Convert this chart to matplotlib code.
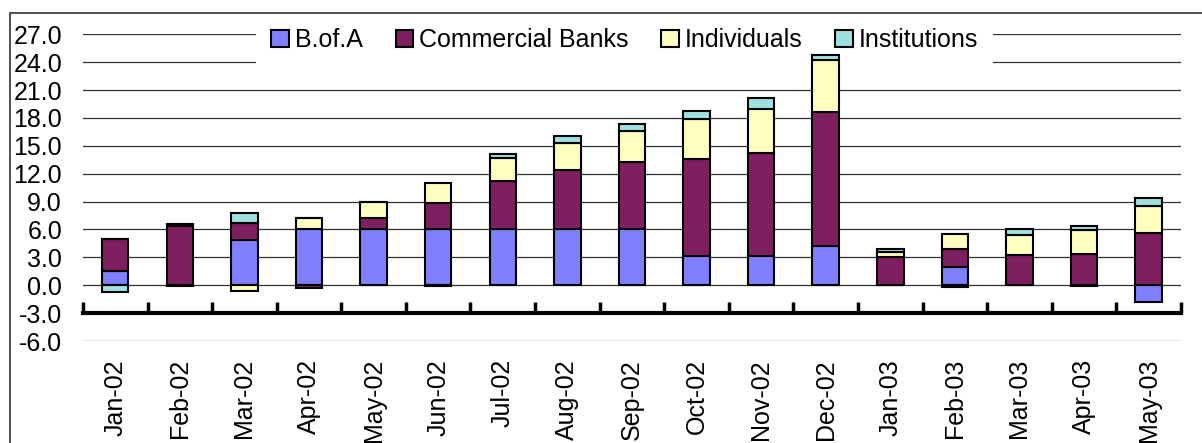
import numpy as np
import matplotlib
matplotlib.use("Agg")
import matplotlib.pyplot as plt
from matplotlib.patches import Rectangle

plt.rcParams["font.family"] = ["Liberation Sans", "DejaVu Sans"]

months = ["Jan-02", "Feb-02", "Mar-02", "Apr-02", "May-02", "Jun-02", "Jul-02",
          "Aug-02", "Sep-02", "Oct-02", "Nov-02", "Dec-02", "Jan-03", "Feb-03",
          "Mar-03", "Apr-03", "May-03"]
bofa = [1.5, -0.1, 4.85, 6.0, 6.0, 6.0, 6.0, 6.0, 6.0, 3.1, 3.1, 4.2,
        0.0, 1.95, 0.0, -0.1, -1.75]
commercial = [3.45, 6.4, 1.85, -0.25, 1.2, 2.85, 5.2, 6.45, 7.3, 10.5, 11.1, 14.45,
              3.0, 2.0, 3.3, 3.4, 5.6]
individuals = [0.0, 0.15, -0.6, 1.2, 1.8, 2.15, 2.5, 2.85, 3.3, 4.3, 4.8, 5.55,
               0.6, 1.6, 2.1, 2.5, 2.9]
institutions = [-0.7, 0.0, 1.1, 0.0, 0.0, -0.1, 0.4, 0.8, 0.75, 0.8, 1.1, 0.6,
                0.35, -0.15, 0.7, 0.45, 0.9]

series = [("B.of.A", bofa, "#8080ff"),
          ("Commercial Banks", commercial, "#801f60"),
          ("Individuals", individuals, "#ffffc0"),
          ("Institutions", institutions, "#a0e0e0")]

FS = 18

fig = plt.figure(figsize=(12.02, 4.43), dpi=100)
ax = fig.add_axes([0.069, 0.2302, 0.9135, 0.6924])

# category axis sits on the -3 line; moving the spine resets ticks, so do it first
for side in ["top", "right", "left"]:
    ax.spines[side].set_visible(False)
ax.spines["bottom"].set_position(("data", -3))
ax.spines["bottom"].set_linewidth(3)

x = np.arange(len(months))
pos_base = np.zeros(len(months))
neg_base = np.zeros(len(months))
for name, vals, color in series:
    v = np.array(vals)
    base = np.where(v >= 0, pos_base, neg_base)
    ax.bar(x, v, width=0.41, bottom=base, color=color, edgecolor="black",
           linewidth=1.5, label=name, zorder=2)
    pos_base += np.clip(v, 0, None)
    neg_base += np.clip(v, None, 0)

ax.set_xlim(-0.5, len(months) - 0.5)
ax.set_ylim(-6, 27)

yt = np.arange(-6, 28, 3)
ax.set_yticks(yt)
ax.set_yticklabels([f"{t:.1f}" for t in yt], fontsize=FS)
ax.yaxis.grid(True, color="#303030", linewidth=0.9)
ax.set_axisbelow(True)

ax.set_xticks(x)
ax.set_xticklabels(months, rotation=90, fontsize=FS, va="top")
ax.set_xticks(np.arange(-0.5, len(months)), minor=True)

ax.tick_params(axis="x", which="major", length=0, pad=33)
ax.tick_params(axis="x", which="minor", direction="in", length=8, width=2.5,
               color="black")
ax.tick_params(axis="y", length=0, pad=15)

leg = ax.legend(loc="center", bbox_to_anchor=(0.4936, 0.98), ncol=4,
                fontsize=FS, handlelength=0.7, handleheight=0.7,
                handletextpad=0.25, columnspacing=1.3, borderpad=0.6,
                frameon=True, fancybox=False, edgecolor="none",
                facecolor="white", framealpha=1.0)
leg.set_zorder(1)
for h in leg.legend_handles:
    h.set_linewidth(1.5)

# outer chart border, runs off the right and bottom of the canvas
fig.add_artist(Rectangle((10 / 1202, -0.2), 1.2, 1.2 - 13 / 443,
                         transform=fig.transFigure, fill=False,
                         edgecolor="#333333", linewidth=1.2, clip_on=False))

fig.savefig("out.png", dpi=100)
